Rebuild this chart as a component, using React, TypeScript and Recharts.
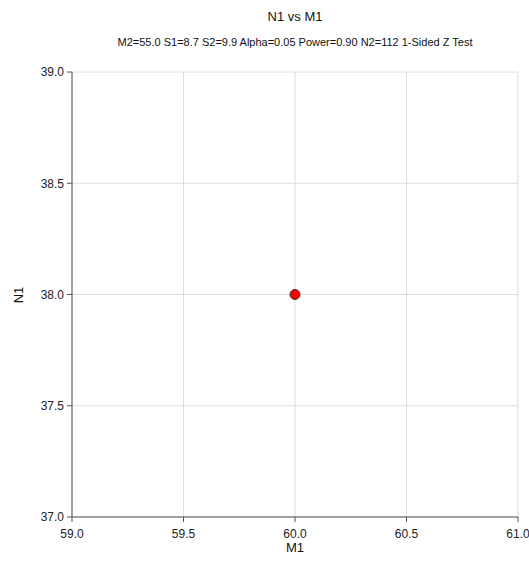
import { ScatterChart, Scatter, XAxis, YAxis, CartesianGrid } from 'recharts';

const m1Values = [60.0];
const n1Values = [38.0];
const xTicks = [59.0, 59.5, 60.0, 60.5, 61.0];
const yTicks = [37.0, 37.5, 38.0, 38.5, 39.0];
const title = 'N1 vs M1';
const subtitle = 'M2=55.0 S1=8.7 S2=9.9 Alpha=0.05 Power=0.90 N2=112 1-Sided Z Test';

const points = m1Values.map((m, i) => ({ m1: m, n1: n1Values[i] }));

const font = 'Liberation Sans, Arial, sans-serif';

export default function App() {
  const fmt = (v: number) => v.toFixed(1);
  return (
    <div style={{ position: 'absolute', left: 0, top: 0, width: 529, height: 564, background: '#fff', fontFamily: font }}>
      <div style={{ position: 'absolute', left: 95, width: 400, top: 9, textAlign: 'center', fontSize: 13, color: '#111' }}>{title}</div>
      <div style={{ position: 'absolute', left: 45, width: 500, top: 36, textAlign: 'center', fontSize: 11, color: '#111' }}>{subtitle}</div>
      <div style={{ position: 'absolute', left: 245, width: 100, top: 540, textAlign: 'center', fontSize: 13, color: '#111' }}>M1</div>
      <div style={{ position: 'absolute', left: 18, top: 295, fontSize: 13, color: '#111', transform: 'translate(-50%, -50%) rotate(-90deg)' }}>N1</div>
      <ScatterChart width={529} height={564} margin={{ top: 72, right: 11, bottom: 27, left: 12 }}>
        <CartesianGrid stroke="#dcdcdc" vertical horizontal />
        <XAxis
          type="number"
          dataKey="m1"
          domain={[59, 61]}
          ticks={xTicks}
          tickFormatter={fmt}
          height={20}
          stroke="#555"
          tickSize={5}
          tickMargin={7}
          tick={{ fill: '#222', fontSize: 12, fontFamily: font }}
          interval={0}
        />
        <YAxis
          type="number"
          dataKey="n1"
          domain={[37, 39]}
          ticks={yTicks}
          tickFormatter={fmt}
          width={60}
          stroke="#555"
          tickSize={5}
          tickMargin={3}
          tick={{ fill: '#222', fontSize: 12, fontFamily: font }}
          interval={0}
        />
        <Scatter
          data={points}
          isAnimationActive={false}
          shape={(p: any) => <circle cx={p.cx} cy={p.cy} r={5} fill="#ff0000" stroke="#333" strokeWidth={1} />}
        />
      </ScatterChart>
    </div>
  );
}
